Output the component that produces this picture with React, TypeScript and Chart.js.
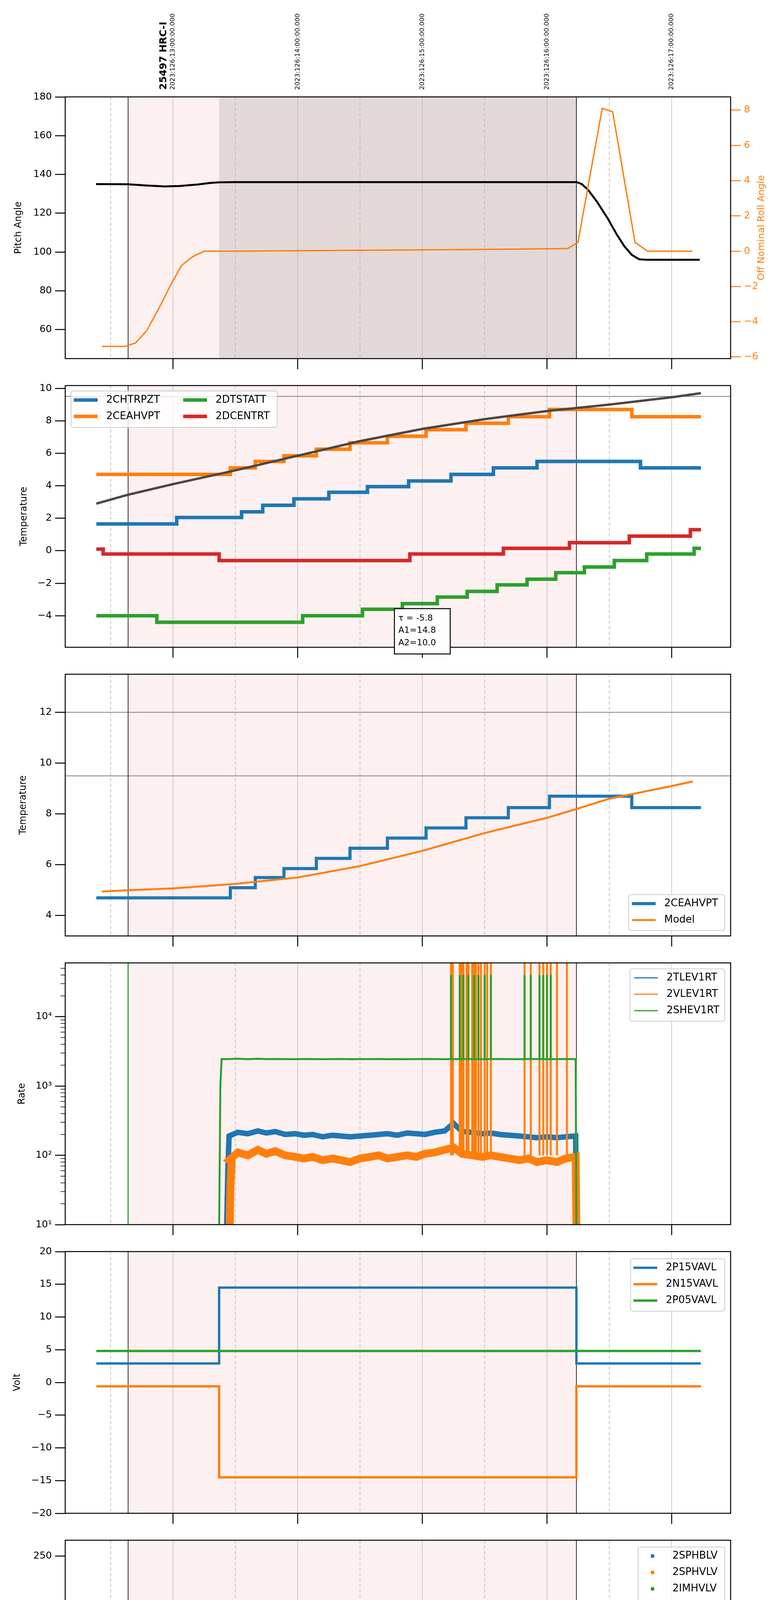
import React, { useEffect, useRef } from "react";
import { Chart, registerables } from "chart.js";
Chart.register(...registerables);

// ---------- time axis (hours of 2023-05-06) ----------
const T_MIN = 8.1355;
const T_MAX = 13.473;
const HOURS = [9, 10, 11, 12, 13];
const HALF_HOURS = [8.5, 9.5, 10.5, 11.5, 12.5];
const HOUR_LABELS = ["09h", "10h", "11h", "12h", "13h"];
const TOP_LABELS = ["2023:126:13:00:00.000", "2023:126:14:00:00.000", "2023:126:15:00:00.000", "2023:126:16:00:00.000", "2023:126:17:00:00.000"];
const OBS_LABEL = "25497 HRC-I";
const OBS_LABEL_T = 8.93;
const X_TITLE = "2023-05-06 (126)";
const PERIOD_START = 8.64;
const PERIOD_END = 12.236;
const DARK_START = 9.37;

const C0 = "#1f77b4", C1 = "#ff7f0e", C2 = "#2ca02c", C3 = "#d62728";

// ---------- panel 1 ----------
const PITCH: [number, number][] = [[8.383, 135], [8.64, 134.9], [8.78, 134.3], [8.93, 133.8], [9.05, 134.0], [9.2, 134.8], [9.3, 135.6], [9.37, 135.9], [9.5, 136], [12.24, 136], [12.28, 135], [12.33, 132], [12.4, 126], [12.49, 117], [12.56, 109], [12.62, 103], [12.68, 98.5], [12.74, 96.2], [12.8, 96], [13.225, 96]];
const ROLL: [number, number][] = [[8.43, -5.4], [8.618, -5.4], [8.7, -5.2], [8.79, -4.5], [8.89, -3.2], [8.99, -1.8], [9.07, -0.8], [9.16, -0.3], [9.25, 0], [9.5, 0], [10.5, 0.05], [11.5, 0.1], [12.167, 0.15], [12.248, 0.5], [12.443, 8.1], [12.527, 7.9], [12.706, 0.5], [12.806, 0], [13.166, 0]];

// ---------- panel 2 ----------
const CHTRPZT: [number, number][] = [[8.385, 1.65], [9.03, 2.05], [9.55, 2.4], [9.72, 2.8], [9.97, 3.2], [10.25, 3.6], [10.56, 3.95], [10.89, 4.3], [11.23, 4.7], [11.57, 5.1], [11.92, 5.5], [12.75, 5.1], [13.235, 5.1]];
const CEAHVPT: [number, number][] = [[8.385, 4.7], [9.46, 5.1], [9.66, 5.5], [9.89, 5.85], [10.15, 6.25], [10.42, 6.65], [10.72, 7.05], [11.03, 7.45], [11.35, 7.85], [11.69, 8.25], [12.02, 8.7], [12.68, 8.25], [13.235, 8.25]];
const DTSTATT: [number, number][] = [[8.385, -4.0], [8.87, -4.4], [10.04, -4.0], [10.52, -3.6], [10.84, -3.25], [11.12, -2.85], [11.36, -2.5], [11.6, -2.1], [11.84, -1.75], [12.07, -1.35], [12.3, -1.0], [12.54, -0.6], [12.8, -0.2], [13.18, 0.15], [13.235, 0.15]];
const DCENTRT: [number, number][] = [[8.385, 0.1], [8.44, -0.2], [9.37, -0.6], [10.9, -0.2], [11.65, 0.15], [12.18, 0.5], [12.66, 0.9], [13.15, 1.3], [13.235, 1.3]];
const MODEL_FIT: [number, number][] = [[8.385, 2.9], [8.64, 3.45], [9.0, 4.1], [9.5, 4.95], [10, 5.85], [10.5, 6.75], [11, 7.5], [11.5, 8.1], [12, 8.6], [12.5, 9.0], [13, 9.45], [13.235, 9.7]];
const FIT_TEXT = ["\u03c4 = -5.8", "A1=14.8", "A2=10.0"];

// ---------- panel 3 ----------
const MODEL: [number, number][] = [[8.43, 4.95], [8.64, 5.0], [9.0, 5.07], [9.5, 5.25], [10, 5.5], [10.5, 5.95], [11, 6.55], [11.5, 7.25], [12, 7.85], [12.24, 8.2], [12.5, 8.6], [13, 9.1], [13.17, 9.28]];

// ---------- panel 4 (rates) ----------
const RATE_T = [9.45, 9.52, 9.6, 9.68, 9.75, 9.82, 9.9, 9.98, 10.05, 10.12, 10.2, 10.28, 10.35, 10.42, 10.5, 10.58, 10.65, 10.72, 10.8, 10.88, 10.95, 11.02, 11.1, 11.18, 11.25, 11.32, 11.4, 11.48, 11.55, 11.62, 11.7, 11.78, 11.85, 11.92, 12.0, 12.08, 12.15, 12.23];
const TLEV1RT = [190, 215, 205, 225, 210, 220, 200, 205, 195, 200, 185, 195, 190, 185, 190, 195, 200, 205, 195, 210, 205, 200, 215, 225, 290, 220, 215, 205, 210, 200, 195, 190, 185, 180, 185, 180, 185, 190];
const VLEV1RT = [85, 110, 100, 120, 105, 115, 100, 95, 90, 95, 85, 90, 85, 80, 90, 95, 100, 90, 95, 100, 95, 105, 110, 120, 130, 105, 100, 95, 100, 95, 90, 85, 90, 80, 85, 80, 90, 95];
const SHEV1RT = [2450, 2480, 2440, 2470, 2450, 2460, 2450, 2440, 2460, 2450, 2440, 2450, 2460, 2440, 2450, 2450, 2460, 2440, 2450, 2440, 2450, 2460, 2450, 2440, 2450, 2460, 2450, 2440, 2450, 2460, 2450, 2440, 2450, 2450, 2440, 2450, 2460, 2450];
const SPIKES_A = [11.23, 11.245, 11.3, 11.315, 11.33, 11.355, 11.37, 11.4, 11.415, 11.43, 11.45, 11.47, 11.5, 11.52, 11.55];
const SPIKES_B = [11.82, 11.87, 11.94, 11.97, 12.0, 12.03, 12.08, 12.16];

// ---------- panel 5 (volts) ----------
const P15VAVL: [number, number][] = [[8.385, 2.9], [9.37, 14.5], [12.236, 2.9], [13.235, 2.9]];
const N15VAVL: [number, number][] = [[8.385, -0.6], [9.37, -14.5], [12.236, -0.6], [13.235, -0.6]];
const P05VAVL: [number, number][] = [[8.385, 4.8], [13.235, 4.8]];

// ---------- panel 6 (HV monitor) ----------
const IMHBLV_PTS: [number, number][] = [[9.39, 127], [9.39, 125], [9.395, 122], [9.4, 115], [9.4, 106], [9.41, 102], [9.415, 98], [9.42, 95], [9.43, 92], [9.44, 89], [9.45, 87], [11.3, 79], [11.32, 79], [11.36, 79], [11.46, 79], [12.01, 79]];
const IMHBLV_FLAT: [number, number][] = [[9.45, 86], [12.236, 86]];
const IMHVLV_PTS: [number, number][] = [[9.39, 109], [9.39, 100], [9.4, 95], [9.41, 90], [9.42, 86], [9.43, 82], [9.44, 80], [9.45, 79], [11.3, 127], [11.32, 127], [11.36, 127], [11.46, 127], [12.01, 127]];
const IMHVLV_FLAT: [number, number][] = [[9.45, 79], [12.236, 79]];

// ---------- panel 7 (detector temps) ----------
const SPINATM: [number, number][] = [[9.38, 1.9], [9.51, 2.3], [9.56, 1.9], [9.7, 2.3], [10.95, 2.75], [11.69, 3.2], [12.23, 3.2]];
const SPHVATM: [number, number][] = [[9.37, 14.15], [9.78, 14.4], [10.17, 14.7], [10.46, 15.0], [10.73, 15.3], [11.02, 15.55], [11.57, 15.75], [11.6, 16.1], [11.87, 16.35], [12.16, 16.6], [12.23, 16.6]];
const IMINATM: [number, number][] = [[9.38, 0.2], [9.85, 0.6], [11.06, 1.05], [11.85, 1.45], [12.23, 1.45]];
const IMHVATM: [number, number][] = [[9.37, -1], [9.37, 13.6], [9.5, 13.9], [9.61, 14.15], [9.72, 14.45], [9.81, 14.75], [9.93, 15.0], [10.05, 15.3], [10.18, 15.55], [10.33, 15.85], [10.49, 16.1], [10.68, 16.4], [10.89, 16.65], [11.08, 16.95], [11.23, 17.0], [11.57, 17.25], [11.6, 17.55], [11.84, 17.85], [12.11, 18.1], [12.23, 18.1]];

// ---------- panel 8 (FEA temps) ----------
const FHTRMZT: [number, number][] = [[8.385, -7.6], [8.67, -7.2], [9.54, -6.75], [9.68, -6.35], [9.81, -6.0], [9.94, -5.6], [10.06, -5.2], [10.18, -4.8], [10.31, -4.4], [10.44, -4.0], [10.57, -3.65], [10.7, -3.25], [10.83, -2.9], [10.96, -2.5], [11.1, -2.1], [11.2, -1.75], [11.39, -1.35], [11.53, -1.0], [11.68, -0.6], [11.84, -0.25], [12.0, 0.15], [12.16, 0.55], [12.34, 0.9], [12.5, 0.5], [12.85, 0.15], [13.11, -0.25], [13.235, -0.25]];
const FRADPYT: [number, number][] = [[9.62, -8.5], [9.62, -8.0], [9.75, -7.6], [9.88, -7.2], [10.0, -6.8], [10.13, -6.4], [10.26, -6.0], [10.39, -5.6], [10.54, -5.2], [10.68, -4.8], [10.82, -4.45], [10.96, -4.05], [11.12, -3.65], [11.27, -3.3], [11.51, -2.9], [11.58, -2.5], [11.74, -2.1], [11.92, -1.75], [12.08, -1.35], [12.26, -1.0], [12.35, -1.4], [12.55, -1.75], [12.71, -2.15], [12.87, -2.5], [13.05, -2.9], [13.235, -2.9]];
const FEPRATM: [number, number][] = [[9.38, -6.2], [9.39, -5.85], [9.44, -5.45], [9.48, -5.0], [9.53, -4.65], [9.6, -4.25], [9.67, -3.85], [9.76, -3.45], [9.85, -3.0], [9.97, -2.65], [10.09, -2.25], [10.2, -1.85], [10.34, -1.45], [10.46, -1.0], [10.6, -0.65], [10.75, -0.25], [10.89, 0.2], [11.04, 0.65], [11.38, 1.55], [11.55, 1.95], [11.72, 2.4], [11.9, 2.85], [12.06, 3.3], [12.23, 3.3]];
const FE00ATM: [number, number][] = [[9.37, -8.5], [9.37, -4.9], [9.52, -4.5], [9.62, -4.15], [9.71, -3.85], [9.79, -3.5], [9.88, -3.15], [9.97, -2.8], [10.07, -2.45], [10.17, -2.1], [10.25, -1.75], [10.36, -1.45], [10.45, -1.1], [10.56, -0.8], [10.66, -0.5], [10.76, -0.15], [10.88, 0.15], [10.98, 0.5], [11.08, 0.8], [11.2, 1.1], [11.57, 1.65], [11.6, 2.0], [11.74, 2.35], [11.87, 2.65], [11.97, 2.95], [12.07, 3.3], [12.23, 3.3]];
const FEP_SPIKES_B = [11.87, 11.94, 12.02];

// ---------- layout ----------
const PLOT_LEFT = 167;
const PLOT_RIGHT_PAD = 129;
const PANEL_H = 670;
const panelTop = (i: number) => 248 + 738.9 * i;
const FONT = "'DejaVu Sans', sans-serif";

type Pair = [number, number];
const pts = (d: Pair[]) => d.map(([x, y]) => ({ x, y }));
const vl = (ts: number[], y0: number, y1: number) => ts.flatMap((t) => [{ x: t, y: y0 }, { x: t, y: y1 }, { x: t, y: null as any }]);
const line = (data: any[], color: string, width: number, extra: any = {}) => ({ data, borderColor: color, backgroundColor: color, borderWidth: width, pointRadius: 0, fill: false, tension: 0, spanGaps: false, borderCapStyle: "butt", ...extra });
const step = (d: Pair[], color: string, width: number, extra: any = {}) => line(pts(d), color, width, { stepped: "before", ...extra });
const ratePts = (vals: number[], pre: Pair[]) => [...pts(pre), ...RATE_T.map((t, i) => ({ x: t, y: vals[i] })), { x: 12.236, y: 8 }];
const fmtNum = (v: number) => (v < 0 ? "\u2212" + Math.abs(v) : String(v));

interface LegendItem { label: string; color: string; lw: number; dot?: boolean }
interface PanelCfg {
  idx: number; padTop: number; padBottom: number;
  yLabel: string; yLabelX: number;
  yMin: number; yMax: number; yTicks: number[]; fmt?: (v: number) => string; log?: boolean;
  y1?: { min: number; max: number; ticks: number[]; label: string; labelX: number; color: string };
  datasets: any[];
  legend?: { x0: number; y0: number; x1: number; y1: number; cols: number; colX: number[]; items: LegendItem[] };
  hlines?: number[]; dark?: boolean; annotation?: boolean; top?: boolean; bottom?: boolean;
}

const PANELS: PanelCfg[] = [
  {
    idx: 0, padTop: 248, padBottom: 60, yLabel: "Pitch Angle", yLabelX: 48,
    yMin: 45, yMax: 180, yTicks: [60, 80, 100, 120, 140, 160, 180],
    y1: { min: -6.09, max: 8.75, ticks: [-6, -4, -2, 0, 2, 4, 6, 8], label: "Off Nominal Roll Angle", labelX: 1951, color: C1 },
    dark: true, top: true,
    datasets: [line(pts(PITCH), "#000", 5), line(pts(ROLL), C1, 3.5, { yAxisID: "y1" })],
  },
  {
    idx: 1, padTop: 60, padBottom: 60, yLabel: "Temperature", yLabelX: 62,
    yMin: -5.94, yMax: 10.17, yTicks: [-4, -2, 0, 2, 4, 6, 8, 10], hlines: [9.5], annotation: true,
    datasets: [step(CHTRPZT, C0, 9), step(CEAHVPT, C1, 9), step(DTSTATT, C2, 9), step(DCENTRT, C3, 9), line(pts(MODEL_FIT), "#4d4545", 6)],
    legend: { x0: 182, y0: 1001, x1: 710, y1: 1094, cols: 2, colX: [7, 287], items: [
      { label: "2CHTRPZT", color: C0, lw: 9 }, { label: "2CEAHVPT", color: C1, lw: 9 },
      { label: "2DTSTATT", color: C2, lw: 9 }, { label: "2DCENTRT", color: C3, lw: 9 }] },
  },
  {
    idx: 2, padTop: 60, padBottom: 60, yLabel: "Temperature", yLabelX: 60,
    yMin: 3.2, yMax: 13.5, yTicks: [4, 6, 8, 10, 12], hlines: [12, 9.5],
    datasets: [step(CEAHVPT, C0, 8), line(pts(MODEL), C1, 5)],
    legend: { x0: 1610, y0: 2290, x1: 1856, y1: 2382, cols: 1, colX: [8], items: [
      { label: "2CEAHVPT", color: C0, lw: 8 }, { label: "Model", color: C1, lw: 5 }] },
  },
  {
    idx: 3, padTop: 60, padBottom: 60, yLabel: "Rate", yLabelX: 57, log: true,
    yMin: 10, yMax: 59900, yTicks: [10, 100, 1000, 10000],
    datasets: [
      line(ratePts(TLEV1RT, [[9.43, 8], [9.44, 60]]), C0, 14),
      line(ratePts(VLEV1RT, [[9.455, 8], [9.46, 30], [9.47, 80]]), C1, 20),
      line(vl([...SPIKES_A, ...SPIKES_B], 100, 62000), C1, 5),
      line(ratePts(SHEV1RT, [[9.37, 8], [9.38, 1000], [9.39, 2450]]), C2, 5),
      line(vl([...SPIKES_A.filter((_, i) => i % 2 === 0), ...SPIKES_B.slice(0, 6)], 2450, 40000), C2, 5),
      line(vl([PERIOD_START], 8, 70000), C2, 3),
    ],
    legend: { x0: 1613, y0: 2480, x1: 1856, y1: 2614, cols: 1, colX: [11], items: [
      { label: "2TLEV1RT", color: C0, lw: 3 }, { label: "2VLEV1RT", color: C1, lw: 3 }, { label: "2SHEV1RT", color: C2, lw: 3 }] },
  },
  {
    idx: 4, padTop: 60, padBottom: 60, yLabel: "Volt", yLabelX: 45,
    yMin: -20, yMax: 20, yTicks: [-20, -15, -10, -5, 0, 5, 10, 15, 20],
    datasets: [step(P15VAVL, C0, 6), step(N15VAVL, C1, 6), step(P05VAVL, C2, 6)],
    legend: { x0: 1615, y0: 3222, x1: 1856, y1: 3356, cols: 1, colX: [7], items: [
      { label: "2P15VAVL", color: C0, lw: 6 }, { label: "2N15VAVL", color: C1, lw: 6 }, { label: "2P05VAVL", color: C2, lw: 6 }] },
  },
  {
    idx: 5, padTop: 60, padBottom: 60, yLabel: "HV Monitor", yLabelX: 51,
    yMin: 0, yMax: 266, yTicks: [0, 50, 100, 150, 200, 250],
    datasets: [
      line([], C0, 0), line([], C1, 0),
      line(pts(IMHVLV_FLAT), C2, 10),
      line(pts(IMHBLV_FLAT), C3, 10),
      line(pts(IMHVLV_PTS), C2, 0, { showLine: false, pointRadius: 5, pointBorderWidth: 0, pointBackgroundColor: C2 }),
      line(pts(IMHBLV_PTS), C3, 0, { showLine: false, pointRadius: 5, pointBorderWidth: 0, pointBackgroundColor: C3 }),
    ],
    legend: { x0: 1634, y0: 3960, x1: 1856, y1: 4136, cols: 1, colX: [37], items: [
      { label: "2SPHBLV", color: C0, lw: 0, dot: true }, { label: "2SPHVLV", color: C1, lw: 0, dot: true },
      { label: "2IMHVLV", color: C2, lw: 0, dot: true }, { label: "2IMHBLV", color: C3, lw: 0, dot: true }] },
  },
  {
    idx: 6, padTop: 60, padBottom: 60, yLabel: "Detector Temp", yLabelX: 41,
    yMin: -0.84, yMax: 18.76, yTicks: [0, 2.5, 5, 7.5, 10, 12.5, 15, 17.5], fmt: (v) => v.toFixed(1),
    datasets: [
      step(SPINATM, C0, 9), line(vl([...SPIKES_A, ...SPIKES_B.slice(0, 5)], 3.0, -1), C0, 6),
      step(SPHVATM, C1, 9), line(vl(SPIKES_A, 15.6, 10.8), C1, 6), line(vl(SPIKES_B.slice(0, 5), 16.2, 11.4), C1, 6), line(vl([11.41], 15.6, -1), C1, 3),
      step(IMINATM, C2, 9), line(vl([...SPIKES_A, ...SPIKES_B.slice(0, 5)], 1.0, 2.85), C2, 6),
      step(IMHVATM, C3, 9), line(vl(SPIKES_A, 17.1, 15.8), C3, 6), line(vl([PERIOD_END], -1, 20), C3, 8),
    ],
    legend: { x0: 1610, y0: 4698, x1: 1856, y1: 4874, cols: 1, colX: [6], items: [
      { label: "2SPINATM", color: C0, lw: 9 }, { label: "2SPHVATM", color: C1, lw: 9 }, { label: "2IMINATM", color: C2, lw: 9 }, { label: "2IMHVATM", color: C3, lw: 9 }] },
  },
  {
    idx: 7, padTop: 60, padBottom: 110, yLabel: "FEA Temp", yLabelX: 61, bottom: true,
    yMin: -8.27, yMax: 3.24, yTicks: [-8, -6, -4, -2, 0, 2],
    datasets: [
      step(FHTRMZT, C0, 9), line(vl([9.87], -6.0, -7.2), C0, 6),
      step(FRADPYT, C1, 9),
      step(FEPRATM, C2, 9), line(vl(SPIKES_A, 1.2, -4.65), C2, 6), line(vl(FEP_SPIKES_B, 2.6, -4.65), C2, 6),
      step(FE00ATM, C3, 9), line(vl([10.09], -2.8, -3.8), C3, 5), line(vl(SPIKES_A, 1.2, 3.5), C3, 6), line(vl(SPIKES_B.slice(0, 6), 2.5, 3.5), C3, 5),
      line(vl([11.42, PERIOD_END], -9, 4), C3, 8),
    ],
    legend: { x0: 1607, y0: 5905, x1: 1856, y1: 6081, cols: 1, colX: [8], items: [
      { label: "2FHTRMZT", color: C0, lw: 9 }, { label: "2FRADPYT", color: C1, lw: 9 }, { label: "2FEPRATM", color: C2, lw: 9 }, { label: "2FE00ATM", color: C3, lw: 9 }] },
  },
];

function makePlugin(cfg: PanelCfg, canvasTop: number) {
  const py = (pageY: number) => pageY - canvasTop;
  return {
    id: "decor" + cfg.idx,
    beforeDatasetsDraw(chart: any) {
      const { ctx, chartArea: a, scales } = chart;
      const xs = (t: number) => scales.x.getPixelForValue(t);
      ctx.save();
      ctx.fillStyle = "#fdf0f0";
      ctx.fillRect(xs(PERIOD_START), a.top, xs(PERIOD_END) - xs(PERIOD_START), a.bottom - a.top);
      if (cfg.dark) {
        ctx.fillStyle = "#e3d8d8";
        ctx.fillRect(xs(DARK_START), a.top, xs(PERIOD_END) - xs(DARK_START), a.bottom - a.top);
      }
      ctx.strokeStyle = "#b0b0b0";
      ctx.lineWidth = 1.5;
      ctx.setLineDash([8, 6]);
      for (const t of HALF_HOURS) { ctx.beginPath(); ctx.moveTo(xs(t), a.top); ctx.lineTo(xs(t), a.bottom); ctx.stroke(); }
      ctx.setLineDash([]);
      ctx.lineWidth = 1.2;
      for (const t of HOURS) { ctx.beginPath(); ctx.moveTo(xs(t), a.top); ctx.lineTo(xs(t), a.bottom); ctx.stroke(); }
      ctx.strokeStyle = "#808080";
      ctx.lineWidth = 2;
      for (const v of cfg.hlines || []) { const y = scales.y.getPixelForValue(v); ctx.beginPath(); ctx.moveTo(a.left, y); ctx.lineTo(a.right, y); ctx.stroke(); }
      ctx.strokeStyle = "#000";
      ctx.lineWidth = 1.6;
      for (const t of [PERIOD_START, PERIOD_END]) { ctx.beginPath(); ctx.moveTo(xs(t), a.top); ctx.lineTo(xs(t), a.bottom); ctx.stroke(); }
      ctx.restore();
    },
    afterDraw(chart: any) {
      const { ctx, chartArea: a, scales } = chart;
      const xs = (t: number) => scales.x.getPixelForValue(t);
      ctx.save();
      ctx.strokeStyle = "#000"; ctx.lineWidth = 2.5;
      ctx.strokeRect(a.left, a.top, a.right - a.left, a.bottom - a.top);
      ctx.lineWidth = 2.5;
      for (const t of HOURS) { ctx.beginPath(); ctx.moveTo(xs(t), a.bottom); ctx.lineTo(xs(t), a.bottom + 27); ctx.stroke(); }
      if (cfg.bottom) {
        ctx.lineWidth = 1.5;
        for (const t of HALF_HOURS) { ctx.beginPath(); ctx.moveTo(xs(t), a.bottom); ctx.lineTo(xs(t), a.bottom + 10); ctx.stroke(); }
      }
      if (cfg.log) {
        ctx.lineWidth = 1.5;
        for (let d = 10; d < cfg.yMax; d *= 10) for (let k = 2; k <= 9; k++) {
          const v = k * d; if (v > cfg.yMax) break;
          const y = scales.y.getPixelForValue(v);
          ctx.beginPath(); ctx.moveTo(a.left - 12, y); ctx.lineTo(a.left, y); ctx.stroke();
        }
      }
      ctx.fillStyle = "#000";
      ctx.font = `24px ${FONT}`;
      ctx.textAlign = "center"; ctx.textBaseline = "middle";
      const midY = (a.top + a.bottom) / 2;
      ctx.save(); ctx.translate(cfg.yLabelX, midY); ctx.rotate(-Math.PI / 2); ctx.fillText(cfg.yLabel, 0, 0); ctx.restore();
      if (cfg.y1) {
        ctx.fillStyle = cfg.y1.color;
        ctx.save(); ctx.translate(cfg.y1.labelX, midY); ctx.rotate(-Math.PI / 2); ctx.fillText(cfg.y1.label, 0, 0); ctx.restore();
      }
      if (cfg.legend) {
        const L = cfg.legend;
        const rows = Math.ceil(L.items.length / L.cols);
        ctx.fillStyle = "rgba(255,255,255,0.8)";
        ctx.strokeStyle = "#cccccc"; ctx.lineWidth = 2;
        ctx.beginPath();
        (ctx as any).roundRect(L.x0, py(L.y0), L.x1 - L.x0, L.y1 - L.y0, 6);
        ctx.fill(); ctx.stroke();
        ctx.font = `26px ${FONT}`; ctx.textAlign = "left"; ctx.textBaseline = "middle";
        L.items.forEach((it, i) => {
          const col = Math.floor(i / rows), row = i % rows;
          const hx = L.x0 + L.colX[col];
          const yy = py(L.y0) + 23 + row * 42;
          if (it.dot) {
            ctx.fillStyle = it.color; ctx.beginPath(); ctx.arc(hx, yy, 5, 0, Math.PI * 2); ctx.fill();
            ctx.fillStyle = "#000"; ctx.fillText(it.label, hx + 51, yy);
          } else {
            ctx.strokeStyle = it.color; ctx.lineWidth = it.lw; ctx.lineCap = "butt";
            ctx.beginPath(); ctx.moveTo(hx, yy); ctx.lineTo(hx + 61, yy); ctx.stroke();
            ctx.fillStyle = "#000"; ctx.fillText(it.label, hx + 83, yy);
          }
        });
      }
      if (cfg.annotation) {
        ctx.fillStyle = "#fff"; ctx.strokeStyle = "#000"; ctx.lineWidth = 2.5;
        ctx.fillRect(1010, py(1558), 143, 116); ctx.strokeRect(1010, py(1558), 143, 116);
        ctx.fillStyle = "#000"; ctx.font = `22px ${FONT}`; ctx.textAlign = "left"; ctx.textBaseline = "middle";
        FIT_TEXT.forEach((s, i) => ctx.fillText(s, 1020, py(1583 + i * 31.5)));
      }
      if (cfg.top) {
        ctx.fillStyle = "#000"; ctx.textAlign = "left"; ctx.textBaseline = "middle";
        ctx.font = `16.5px ${FONT}`;
        HOURS.forEach((t, i) => { ctx.save(); ctx.translate(xs(t), 230); ctx.rotate(-Math.PI / 2); ctx.fillText(TOP_LABELS[i], 0, 0); ctx.restore(); });
        ctx.font = `bold 25px ${FONT}`;
        ctx.save(); ctx.translate(xs(OBS_LABEL_T) - 1, 230); ctx.rotate(-Math.PI / 2); ctx.fillText(OBS_LABEL, 0, 0); ctx.restore();
      }
      if (cfg.bottom) {
        ctx.fillStyle = "#000"; ctx.textAlign = "center"; ctx.textBaseline = "middle";
        ctx.font = `17px ${FONT}`;
        HALF_HOURS.forEach((t) => ctx.fillText("30", xs(t), a.bottom + 22));
        ctx.font = `26px ${FONT}`;
        HOURS.forEach((t, i) => ctx.fillText(HOUR_LABELS[i], xs(t), a.bottom + 52));
        ctx.fillText(X_TITLE, (a.left + a.right) / 2, a.bottom + 90);
      }
      ctx.restore();
    },
  };
}

function Panel({ cfg }: { cfg: PanelCfg }) {
  const ref = useRef<HTMLCanvasElement | null>(null);
  const top = panelTop(cfg.idx) - cfg.padTop;
  const height = cfg.padTop + PANEL_H + cfg.padBottom;
  useEffect(() => {
    const canvas = ref.current!;
    const fmt = cfg.fmt || fmtNum;
    const tickFont = { family: FONT, size: 25 };
    const gridCfg = (color: string) => ({ display: true, drawOnChartArea: false, drawTicks: true, tickLength: 26, tickWidth: 2.5, tickColor: color, color });
    const noPad = (s: any) => { s.paddingTop = 0; s.paddingBottom = 0; };
    const scales: any = {
      x: { type: "linear", min: T_MIN, max: T_MAX, display: false },
      y: {
        type: cfg.log ? "logarithmic" : "linear", position: "left", min: cfg.yMin, max: cfg.yMax,
        afterBuildTicks: (s: any) => { s.ticks = cfg.yTicks.map((v) => ({ value: v })); },
        afterFit: (s: any) => { s.width = PLOT_LEFT; noPad(s); },
        ticks: {
          font: tickFont, color: "#000", padding: 8, autoSkip: false,
          callback: (v: any) => cfg.log ? "10" + ["\u2070", "\u00b9", "\u00b2", "\u00b3", "\u2074", "\u2075"][Math.round(Math.log10(v))] : fmt(Number(v)),
        },
        grid: gridCfg("#000"), border: { display: false },
      },
    };
    if (cfg.y1) {
      const r = cfg.y1;
      scales.y1 = {
        type: "linear", position: "right", min: r.min, max: r.max,
        afterBuildTicks: (s: any) => { s.ticks = r.ticks.map((v) => ({ value: v })); },
        afterFit: (s: any) => { s.width = PLOT_RIGHT_PAD; noPad(s); },
        ticks: { font: tickFont, color: r.color, padding: 8, autoSkip: false, callback: (v: any) => fmtNum(Number(v)) },
        grid: gridCfg(r.color), border: { display: false },
      };
    }
    // later datasets drawn on top (matplotlib order)
    const datasets = cfg.datasets.map((d, i) => ({ ...d, order: -i }));
    const chart = new Chart(canvas, {
      type: "line",
      data: { datasets },
      options: {
        animation: false, responsive: false, devicePixelRatio: 1,
        layout: { padding: { top: cfg.padTop, bottom: cfg.padBottom, left: 0, right: cfg.y1 ? 0 : PLOT_RIGHT_PAD } },
        plugins: { legend: { display: false }, tooltip: { enabled: false } },
        events: [],
        scales,
      } as any,
      plugins: [makePlugin(cfg, top)],
    });
    return () => chart.destroy();
  }, []);
  return <canvas ref={ref} width={2000} height={height} style={{ position: "absolute", left: 0, top, width: 2000, height }} />;
}

export default function App() {
  return (
    <div style={{ position: "relative", margin: "-8px 0 0 -8px", width: 2000, height: 6200, background: "#fff" }}>
      {PANELS.map((p) => <Panel key={p.idx} cfg={p} />)}
    </div>
  );
}
